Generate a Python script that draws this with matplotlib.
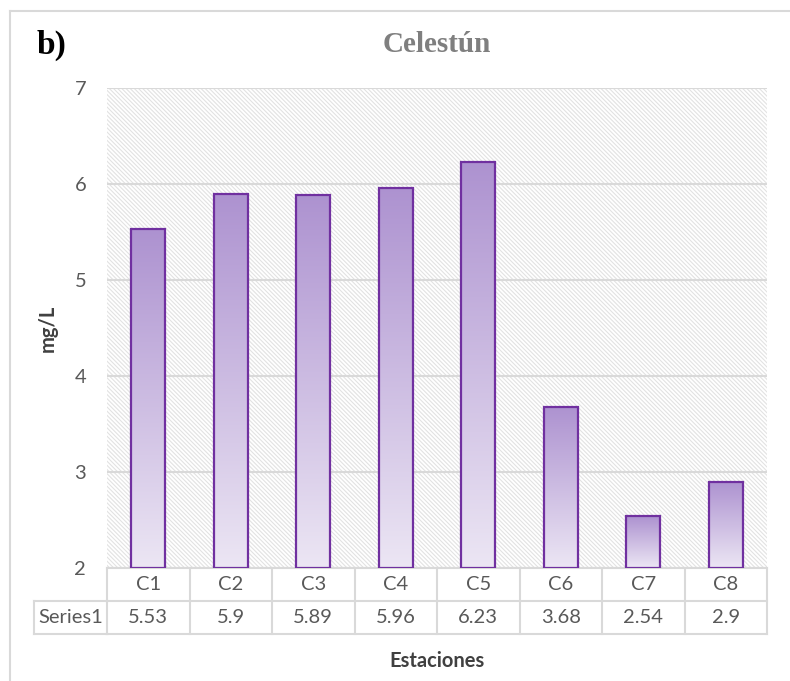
import numpy as np
import matplotlib
matplotlib.use("Agg")
import matplotlib.pyplot as plt
from matplotlib.patches import Rectangle
from matplotlib.lines import Line2D
from matplotlib.colors import LinearSegmentedColormap
import matplotlib.transforms as mtransforms

plt.rcParams['hatch.linewidth'] = 0.8

stations = ["C1", "C2", "C3", "C4", "C5", "C6", "C7", "C8"]
values = [5.53, 5.9, 5.89, 5.96, 6.23, 3.68, 2.54, 2.9]
value_labels = ["5.53", "5.9", "5.89", "5.96", "6.23", "3.68", "2.54", "2.9"]
series_name = "Series1"
yticks = [2, 3, 4, 5, 6, 7]

W, H = 790, 681
fig = plt.figure(figsize=(W / 100, H / 100), dpi=100)
fig.patch.set_facecolor("white")

FS = 14.5
left, right, top, bottom = 107, 767, 88, 568
ax = fig.add_axes([left / W, 1 - bottom / H, (right - left) / W, (bottom - top) / H])
ax.set_facecolor("white")

# hatched plot area background
ax.add_patch(Rectangle((0, 0), 1, 1, transform=ax.transAxes, facecolor="white",
                       edgecolor="#e2e2e2", lw=0, hatch="\\" * 8, zorder=0))

# horizontal gridlines
for t in yticks:
    ax.axhline(t, color="#d9d9d9", lw=1.5, zorder=1)

# gradient-filled bars
cmap = LinearSegmentedColormap.from_list("purp", ["#ece6f4", "#ad92d0"])
grad = np.linspace(0, 1, 256).reshape(-1, 1)
bw = 0.41
for i, v in enumerate(values):
    ax.imshow(grad, cmap=cmap, origin="lower", aspect="auto",
              extent=[i - bw / 2, i + bw / 2, 2, v], zorder=2, interpolation="bilinear")
    ax.add_patch(Rectangle((i - bw / 2, 2), bw, v - 2, facecolor="none",
                           edgecolor="#7030a0", lw=1.6, zorder=3))
ax.set_xlim(-0.5, len(stations) - 0.5)
ax.set_ylim(2, 7)

for s in ax.spines.values():
    s.set_visible(False)
ax.set_xticks([])
ax.set_yticks(yticks)
ax.tick_params(axis="y", length=0, pad=15, labelsize=FS, labelcolor="#595959")
for lab in ax.get_yticklabels():
    lab.set_fontfamily("Lato")

ax.set_ylabel("mg/L", fontsize=FS, fontweight="bold", color="#404040",
              fontfamily="Lato", labelpad=12)

# data table under the axis
tr = mtransforms.blended_transform_factory(ax.transData, ax.transAxes)
ph = bottom - top
r1 = -33 / ph
r2 = -66 / ph
gc = "#d9d9d9"
n = len(stations)
x0, x1 = -0.5, n - 0.5
for yy in (0, r1, r2):
    ax.add_line(Line2D([x0, x1], [yy, yy], transform=tr, color=gc, lw=1.5, clip_on=False))
for k in range(n + 1):
    ax.add_line(Line2D([k - 0.5, k - 0.5], [0, r2], transform=tr, color=gc, lw=1.5, clip_on=False))
# row header cell
xs = -0.5 - (107 - 34) / ((right - left) / n)
ax.add_line(Line2D([xs, x0], [r1, r1], transform=tr, color=gc, lw=1.5, clip_on=False))
ax.add_line(Line2D([xs, x0], [r2, r2], transform=tr, color=gc, lw=1.5, clip_on=False))
ax.add_line(Line2D([xs, xs], [r1, r2], transform=tr, color=gc, lw=1.5, clip_on=False))

for i, (s, vl) in enumerate(zip(stations, value_labels)):
    ax.text(i, r1 / 2, s, transform=tr, ha="center", va="center", fontsize=FS,
            color="#595959", fontfamily="Lato")
    ax.text(i, (r1 + r2) / 2, vl, transform=tr, ha="center", va="center", fontsize=FS,
            color="#595959", fontfamily="Lato")
ax.text((xs + x0) / 2, (r1 + r2) / 2, series_name, transform=tr, ha="center", va="center",
        fontsize=FS, color="#595959", fontfamily="Lato")

# titles and labels
fig.text((left + right) / 2 / W, 1 - 45 / H, "Celestún", ha="center", va="center",
         fontsize=21, fontweight="bold", color="#7f7f7f", fontfamily="Liberation Serif")
fig.text(37 / W, 1 - 45 / H, "b)", ha="left", va="center",
         fontsize=24, fontweight="bold", color="black", fontfamily="Liberation Serif")
fig.text((left + right) / 2 / W, 1 - 661 / H, "Estaciones", ha="center", va="center",
         fontsize=FS, fontweight="bold", color="#404040", fontfamily="Lato")

# chart border
fig.add_artist(Line2D([10 / W, 1], [1 - 11 / H, 1 - 11 / H], transform=fig.transFigure,
                      color="#d9d9d9", lw=1.5))
fig.add_artist(Line2D([10 / W, 10 / W], [0, 1 - 11 / H], transform=fig.transFigure,
                      color="#d9d9d9", lw=1.5))

fig.savefig("out.png", dpi=100, facecolor="white")
